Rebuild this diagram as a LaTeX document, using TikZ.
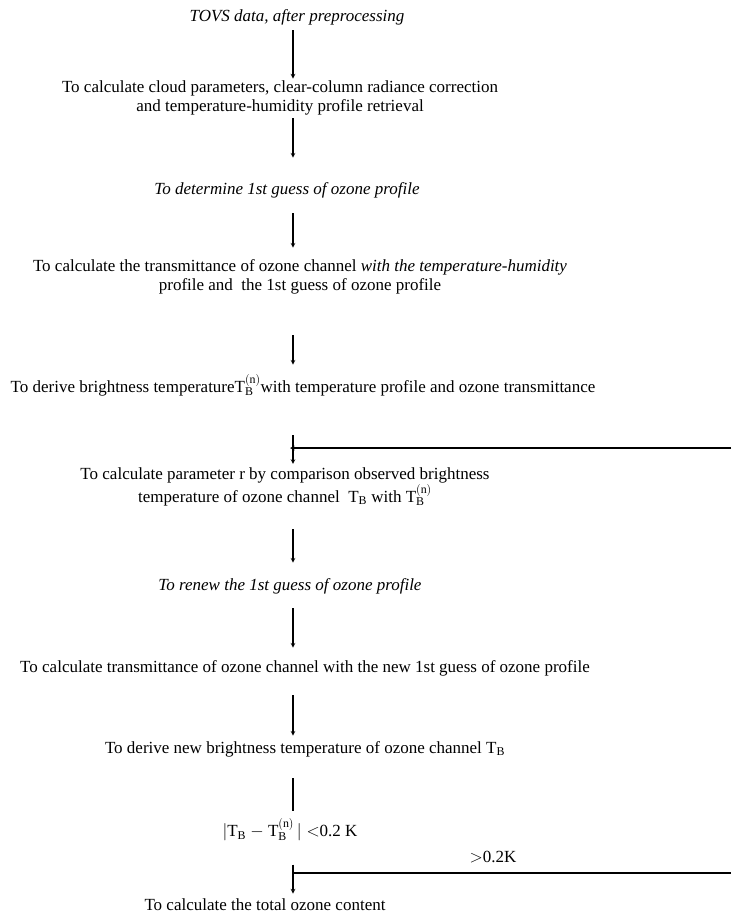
\documentclass[tikz,border=0pt]{standalone}
\usepackage{fontspec}
\setmainfont{Liberation Serif}
\usetikzlibrary{arrows,positioning}

\newcommand{\TBsub}{T$_{\mathrm{B}}$}
\newcommand{\TBn}{T$_{\mathrm{B}}^{(\mathrm{n})}$}

\begin{document}
\begin{tikzpicture}[x=1pt, y=1pt, >=stealth,
  txt/.style={font=\fontsize{17}{19}\selectfont, align=center, inner sep=2pt},
  flow/.style={->, line width=1.1pt},
  bare/.style={line width=1.1pt}]
  \useasboundingbox (0,0) rectangle (731,-920);
  \coordinate (ax) at (293,0);
  \coordinate (ret1) at (731,-448);
  \coordinate (ret2) at (731,-873);

  \draw (297,-17)  node[txt](tovs)  {\textit{TOVS data, after preprocessing}};
  \draw (280,-98)  node[txt](cloud) {To calculate cloud parameters, clear-column radiance correction\\
                                     and temperature-humidity profile retrieval};
  \draw (287,-190) node[txt](first) {\textit{To determine 1st guess of ozone profile}};
  \draw (300,-277) node[txt](trans) {To calculate the transmittance of ozone channel \textit{with the temperature-humidity}\\
                                     profile and~ the 1st guess of ozone profile};
  \draw (303,-385) node[txt](tbn)   {To derive brightness temperature\TBn with temperature profile and ozone transmittance};
  \draw (285,-487) node[txt](param) {To calculate parameter r by comparison observed brightness\\
                                     temperature of ozone channel~ \TBsub{} with \TBn};
  \draw (290,-586) node[txt](renew) {\textit{To renew the 1st guess of ozone profile}};
  \draw (305,-668) node[txt](newg)  {To calculate transmittance of ozone channel with the new 1st guess of ozone profile};
  \draw (305,-749) node[txt](tbnew) {To derive new brightness temperature of ozone channel \TBsub};
  \draw (290,-830) node[txt](test)  {$|$\TBsub{} $-$ \TBn$\,|<$0.2 K};
  \draw (265,-905) node[txt](total) {To calculate the total ozone content};
  \draw (493,-857) node[txt](more)  {$>$0.2K};

  \path (tovs.south -| ax)  edge[flow, shorten <=3.3pt]                    (cloud.north -| ax)
        (cloud.south -| ax) edge[flow, shorten <=1pt, shorten >=22.3pt]    (first.north -| ax)
        (first.south -| ax) edge[flow, shorten <=13.3pt, shorten >=9.8pt]  (trans.north -| ax)
        (trans.south -| ax) edge[flow, shorten <=38.8pt, shorten >=7.3pt]  (tbn.north -| ax)
        (tbn.south -| ax)   edge[flow, shorten <=37.3pt, shorten >=1.8pt]  (param.north -| ax)
        (param.south -| ax) edge[flow, shorten <=20.8pt, shorten >=13.3pt] (renew.north -| ax)
        (renew.south -| ax) edge[flow, shorten <=12.3pt, shorten >=10.3pt] (newg.north -| ax)
        (newg.south -| ax)  edge[flow, shorten <=17.3pt, shorten >=3.3pt]  (tbnew.north -| ax)
        (tbnew.south -| ax) edge[bare, shorten <=19.3pt, shorten >=6pt]    (test.north -| ax)
        (test.south -| ax)  edge[flow, shorten <=21.3pt, shorten >=3.3pt]  (total.north -| ax);
  \draw[flow, shorten >=-3pt] (ret1) -- (ret1 -| ax);
  \draw[bare] (ret2 -| ax) -- (ret2);
\end{tikzpicture}
\end{document}
